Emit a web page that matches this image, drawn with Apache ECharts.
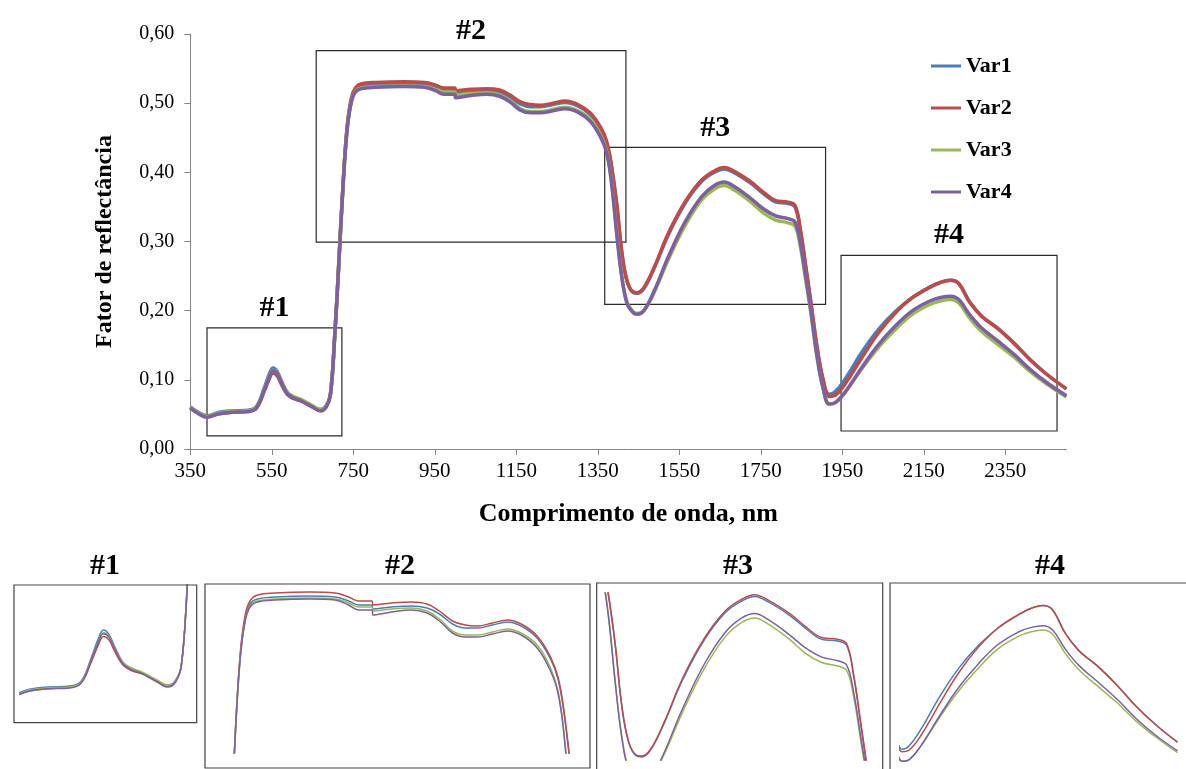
<!DOCTYPE html>
<html>
<head>
<meta charset="utf-8">
<script src="https://cdn.jsdelivr.net/npm/echarts@6/dist/echarts.min.js"></script>
<style>
  html, body { margin: 0; background: #fff; }
  #chart { width: 1186px; height: 769px; }
</style>
</head>
<body>
<div id="chart"></div>
<script>
// wavelengths (nm) and reflectance per variety
var wavelength = [
  350, 370, 391, 421, 452, 492, 512, 532, 543, 553,
  563, 573, 588, 603, 624, 649, 669, 684, 694, 704,
  714, 725, 735, 745, 755, 770, 805, 875, 925, 952,
  972, 999, 1001, 1038, 1078, 1109, 1134, 1160, 1185, 1210,
  1240, 1270, 1301, 1331, 1356, 1371, 1383, 1397, 1409, 1422,
  1437, 1447, 1463, 1488, 1524, 1565, 1605, 1636, 1660, 1686,
  1726, 1757, 1787, 1817, 1834, 1847, 1860, 1873, 1888, 1903,
  1918, 1933, 1958, 1998, 2039, 2079, 2120, 2165, 2191, 2216,
  2236, 2263, 2292, 2330, 2373, 2413, 2454, 2500
];
var var1 = [
  0.061, 0.053, 0.048, 0.053, 0.055, 0.056, 0.061, 0.089, 0.107, 0.117,
  0.112, 0.099, 0.082, 0.075, 0.070, 0.062, 0.057, 0.063, 0.080, 0.160,
  0.264, 0.383, 0.465, 0.504, 0.519, 0.524, 0.526, 0.527, 0.526, 0.522,
  0.518, 0.518, 0.514, 0.516, 0.517, 0.515, 0.509, 0.499, 0.495, 0.495,
  0.498, 0.501, 0.496, 0.484, 0.464, 0.444, 0.410, 0.350, 0.283, 0.242,
  0.226, 0.225, 0.232, 0.261, 0.311, 0.356, 0.387, 0.400, 0.405, 0.399,
  0.384, 0.369, 0.357, 0.355, 0.350, 0.316, 0.264, 0.210, 0.147, 0.100,
  0.079, 0.083, 0.102, 0.140, 0.173, 0.198, 0.218, 0.234, 0.241, 0.244,
  0.239, 0.212, 0.192, 0.175, 0.152, 0.128, 0.107, 0.087
];
var var2 = [
  0.060, 0.052, 0.047, 0.051, 0.053, 0.055, 0.059, 0.084, 0.100, 0.110,
  0.106, 0.094, 0.079, 0.073, 0.069, 0.061, 0.056, 0.062, 0.080, 0.160,
  0.265, 0.385, 0.467, 0.507, 0.522, 0.528, 0.530, 0.531, 0.530, 0.526,
  0.522, 0.522, 0.518, 0.520, 0.521, 0.519, 0.512, 0.502, 0.498, 0.497,
  0.500, 0.503, 0.498, 0.486, 0.466, 0.446, 0.412, 0.352, 0.285, 0.243,
  0.227, 0.226, 0.233, 0.262, 0.313, 0.358, 0.389, 0.402, 0.407, 0.401,
  0.386, 0.371, 0.359, 0.357, 0.352, 0.318, 0.266, 0.212, 0.148, 0.100,
  0.076, 0.078, 0.095, 0.132, 0.168, 0.196, 0.218, 0.234, 0.241, 0.244,
  0.239, 0.212, 0.192, 0.175, 0.152, 0.128, 0.107, 0.087
];
var var3 = [
  0.060, 0.052, 0.047, 0.052, 0.054, 0.055, 0.060, 0.087, 0.104, 0.114,
  0.110, 0.098, 0.082, 0.076, 0.071, 0.063, 0.057, 0.062, 0.079, 0.158,
  0.262, 0.382, 0.463, 0.502, 0.517, 0.522, 0.524, 0.525, 0.524, 0.520,
  0.516, 0.516, 0.512, 0.514, 0.515, 0.512, 0.504, 0.492, 0.488, 0.488,
  0.491, 0.494, 0.489, 0.477, 0.455, 0.432, 0.390, 0.310, 0.250, 0.212,
  0.198, 0.196, 0.200, 0.226, 0.275, 0.324, 0.360, 0.376, 0.381, 0.374,
  0.357, 0.341, 0.331, 0.327, 0.322, 0.293, 0.245, 0.196, 0.132, 0.087,
  0.065, 0.067, 0.083, 0.116, 0.147, 0.172, 0.194, 0.209, 0.214, 0.216,
  0.211, 0.189, 0.170, 0.152, 0.132, 0.111, 0.093, 0.075
];
var var4 = [
  0.059, 0.051, 0.046, 0.051, 0.053, 0.054, 0.059, 0.086, 0.103, 0.113,
  0.109, 0.097, 0.080, 0.074, 0.069, 0.061, 0.055, 0.061, 0.079, 0.158,
  0.262, 0.382, 0.462, 0.501, 0.516, 0.521, 0.523, 0.524, 0.523, 0.518,
  0.513, 0.513, 0.508, 0.511, 0.513, 0.510, 0.502, 0.490, 0.486, 0.486,
  0.489, 0.492, 0.487, 0.474, 0.452, 0.430, 0.388, 0.308, 0.248, 0.210,
  0.197, 0.195, 0.200, 0.228, 0.279, 0.329, 0.365, 0.381, 0.386, 0.379,
  0.362, 0.347, 0.337, 0.333, 0.328, 0.298, 0.250, 0.200, 0.135, 0.088,
  0.065, 0.067, 0.083, 0.118, 0.151, 0.177, 0.199, 0.214, 0.219, 0.221,
  0.216, 0.194, 0.175, 0.157, 0.136, 0.114, 0.095, 0.077
];
var seriesNames = ['Var1', 'Var2', 'Var3', 'Var4'];
var xTicks = [350, 550, 750, 950, 1150, 1350, 1550, 1750, 1950, 2150, 2350];

// highlighted regions on the main chart (wavelength range, reflectance range)
var regionNames = ['#1', '#2', '#3', '#4'];
var regionX = [[391, 722], [659, 1419], [1367, 1909], [1947, 2477]];
var regionY = [[0.019, 0.175], [0.299, 0.576], [0.209, 0.436], [0.026, 0.280]];

// axis ranges of the zoomed panels below
var insetX = [[403, 704], [665, 1435], [1362, 1902], [1915, 2518]];
var insetY = [[0.0162, 0.166], [0.370, 0.539], [0.2215, 0.409], [0.0562, 0.270]];

var colors = ['#4a7ebb', '#be4b48', '#98b954', '#7d60a0'];
var FONT = '"Liberation Serif", "Times New Roman", serif';

var allValues = [var1, var2, var3, var4];
function pairs(vals) {
  return wavelength.map(function (w, i) { return [w, vals[i]]; });
}

// plot areas of the small panels (clip area) and their frames
var insetGrids = [
  { left: 20.7, top: 585, width: 166.3, height: 137.7 },
  { left: 205, top: 584, width: 385, height: 169 },
  { left: 596.7, top: 593, width: 286, height: 167 },
  { left: 900.7, top: 583, width: 295.3, height: 186 }
];
var insetFrames = [
  [14, 585, 182.7, 137.7],
  [205, 584, 385, 184],
  [596.7, 583, 286, 200],
  [890, 583, 320, 200]
];
var insetTitleX = [105, 400, 738, 1050];

var grids = [{ left: 190.3, right: 119.6, top: 34, bottom: 320 }];
var xAxes = [{
  type: 'value', min: 350, max: 2500,
  axisLine: { show: true, lineStyle: { color: '#868686', width: 1 } },
  axisTick: { show: true, customValues: xTicks, length: 6, lineStyle: { color: '#868686' } },
  axisLabel: {
    customValues: xTicks, fontSize: 21, fontFamily: FONT, color: '#000', margin: 12,
    formatter: function (v) { return String(v); }
  },
  splitLine: { show: false },
  name: 'Comprimento de onda, nm', nameLocation: 'middle', nameGap: 52,
  nameTextStyle: { fontSize: 26, fontWeight: 'bold', fontFamily: FONT, color: '#000' }
}];
var yAxes = [{
  type: 'value', min: 0, max: 0.6, interval: 0.1,
  axisLine: { show: true, lineStyle: { color: '#868686', width: 1 } },
  axisTick: { show: true, length: 6, lineStyle: { color: '#868686' } },
  axisLabel: {
    fontSize: 20, fontFamily: FONT, color: '#000', margin: 16,
    formatter: function (v) { return v.toFixed(2).replace('.', ','); }
  },
  splitLine: { show: false },
  name: 'Fator de reflectância', nameLocation: 'middle', nameGap: 74,
  nameTextStyle: { fontSize: 24, fontWeight: 'bold', fontFamily: FONT, color: '#000' }
}];

var series = [];
seriesNames.forEach(function (name, j) {
  var s = {
    name: name, type: 'line', data: pairs(allValues[j]),
    xAxisIndex: 0, yAxisIndex: 0,
    showSymbol: false, smooth: 0.4,
    color: colors[j],
    lineStyle: { width: 3.5, color: colors[j] },
    z: 3
  };
  if (j === 0) {
    s.markArea = {
      silent: true,
      itemStyle: { color: 'rgba(0,0,0,0)', borderColor: '#2a2a2a', borderWidth: 1.2 },
      label: {
        show: true, position: 'top', distance: 4,
        fontSize: 30, fontWeight: 'bold', fontFamily: FONT, color: '#000'
      },
      data: regionNames.map(function (n, k) {
        return [
          { name: n, coord: [regionX[k][0], regionY[k][1]] },
          { coord: [regionX[k][1], regionY[k][0]] }
        ];
      })
    };
  }
  series.push(s);
});

var graphics = [];
insetGrids.forEach(function (g, k) {
  grids.push(g);
  xAxes.push({ gridIndex: k + 1, type: 'value', min: insetX[k][0], max: insetX[k][1], show: false });
  yAxes.push({ gridIndex: k + 1, type: 'value', min: insetY[k][0], max: insetY[k][1], show: false });
  seriesNames.forEach(function (name, j) {
    series.push({
      name: name, type: 'line', data: pairs(allValues[j]),
      xAxisIndex: k + 1, yAxisIndex: k + 1,
      showSymbol: false, smooth: 0.4, silent: true,
      color: colors[j],
      lineStyle: { width: 1.5, color: colors[j] }
    });
  });
  var f = insetFrames[k];
  graphics.push({
    type: 'rect', shape: { x: f[0], y: f[1], width: f[2], height: f[3] },
    style: { fill: null, stroke: '#444', lineWidth: 1.2 }, z: 10
  });
  graphics.push({
    type: 'text', x: insetTitleX[k], y: 566,
    style: {
      text: regionNames[k], textAlign: 'center', textVerticalAlign: 'middle',
      font: 'bold 30px ' + FONT, fill: '#000'
    }
  });
});

var myChart = echarts.init(document.getElementById('chart'));
myChart.setOption({
  animation: false,
  backgroundColor: '#fff',
  legend: {
    data: seriesNames, orient: 'vertical', left: 926, top: 50,
    icon: 'rect', itemWidth: 30, itemHeight: 3, itemGap: 20,
    textStyle: { fontSize: 22, fontWeight: 'bold', fontFamily: FONT, color: '#000' }
  },
  grid: grids,
  xAxis: xAxes,
  yAxis: yAxes,
  series: series,
  graphic: graphics
});
</script>
</body>
</html>
